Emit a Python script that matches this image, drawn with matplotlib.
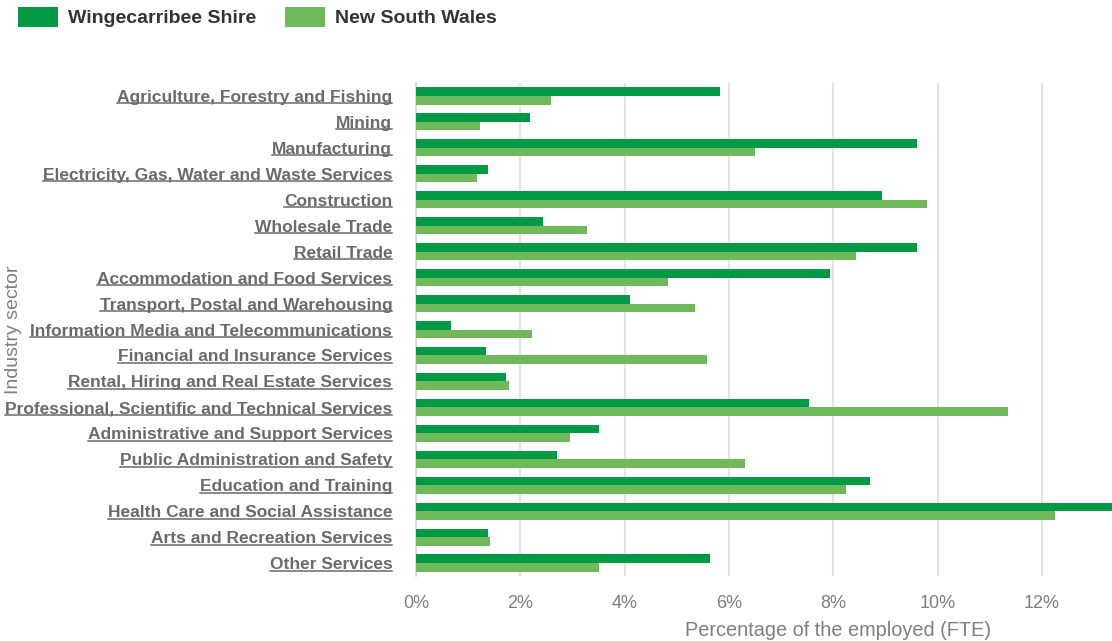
import numpy as np
import matplotlib.pyplot as plt
from matplotlib.lines import Line2D
from matplotlib.ticker import FuncFormatter

plt.rcParams['font.family'] = ['Liberation Sans', 'DejaVu Sans']

# Employment by industry sector, share of FTE (%)
sectors = [
    "Agriculture, Forestry and Fishing",
    "Mining",
    "Manufacturing",
    "Electricity, Gas, Water and Waste Services",
    "Construction",
    "Wholesale Trade",
    "Retail Trade",
    "Accommodation and Food Services",
    "Transport, Postal and Warehousing",
    "Information Media and Telecommunications",
    "Financial and Insurance Services",
    "Rental, Hiring and Real Estate Services",
    "Professional, Scientific and Technical Services",
    "Administrative and Support Services",
    "Public Administration and Safety",
    "Education and Training",
    "Health Care and Social Assistance",
    "Arts and Recreation Services",
    "Other Services",
]
wingecarribee = [5.83, 2.19, 9.60, 1.38, 8.93, 2.44, 9.60, 7.93, 4.11, 0.67,
                 1.34, 1.73, 7.54, 3.51, 2.71, 8.71, 13.45, 1.38, 5.64]
nsw = [2.59, 1.23, 6.50, 1.17, 9.79, 3.28, 8.43, 4.84, 5.34, 2.23,
       5.57, 1.79, 11.34, 2.96, 6.31, 8.25, 12.25, 1.42, 3.51]
series_names = ["Wingecarribee Shire", "New South Wales"]

dark_green = "#009a44"
light_green = "#70b95a"
label_grey = "#6a6a6a"

fig = plt.figure(figsize=(11.12, 6.41), dpi=100)
ax = fig.add_axes([0.374, 0.1014, 0.626, 0.7691])

y = np.arange(len(sectors))
h = 0.33
ax.barh(y - h / 2, wingecarribee, height=h, color=dark_green, label=series_names[0], zorder=3)
ax.barh(y + h / 2, nsw, height=h, color=light_green, label=series_names[1], zorder=3)

ax.set_xlim(0, 13.34)
ax.set_ylim(len(sectors) - 0.5, -0.5)
ax.set_xticks(np.arange(0, 13, 2))
ax.xaxis.set_major_formatter(FuncFormatter(lambda v, p: f"{v:.0f}%"))
ax.set_yticks(y)
ax.set_yticklabels(sectors, fontsize=12.5, fontweight='bold', color=label_grey)
ax.tick_params(axis='y', length=0, pad=17)
ax.tick_params(axis='x', length=0, pad=14, labelsize=13, labelcolor="#7f7f7f")

ax.grid(axis='x', color="#e3e3e3", linewidth=1.5, zorder=0)
for s in ['top', 'right', 'bottom']:
    ax.spines[s].set_visible(False)
ax.spines['left'].set_color("#ccd6eb")
ax.spines['left'].set_linewidth(1.2)

ax.set_xlabel("Percentage of the employed (FTE)", fontsize=14.3, color="#7f7f7f")
ax.xaxis.set_label_coords(0.606, -0.092)
ax.set_ylabel("Industry sector", fontsize=14, color="#7f7f7f")
ax.yaxis.set_label_coords(-0.566, 0.5)

fig.legend(loc='upper left', bbox_to_anchor=(0.0, 1.017), ncol=2, frameon=False,
           prop={'weight': 'bold', 'size': 14},
           handlelength=2.1, handleheight=1.25, handletextpad=0.5,
           columnspacing=1.45, labelcolor="#333333")

# underline the category labels
fig.canvas.draw()
renderer = fig.canvas.get_renderer()
inv = fig.transFigure.inverted()
for lab in ax.get_yticklabels():
    bb = lab.get_window_extent(renderer)
    (x0, y0), (x1, _) = inv.transform([(bb.x0, bb.y0 + 1.5), (bb.x1, bb.y0)])
    fig.add_artist(Line2D([x0, x1], [y0, y0], transform=fig.transFigure,
                          color=label_grey, linewidth=1.1))

fig.savefig("out.png", dpi=100)
